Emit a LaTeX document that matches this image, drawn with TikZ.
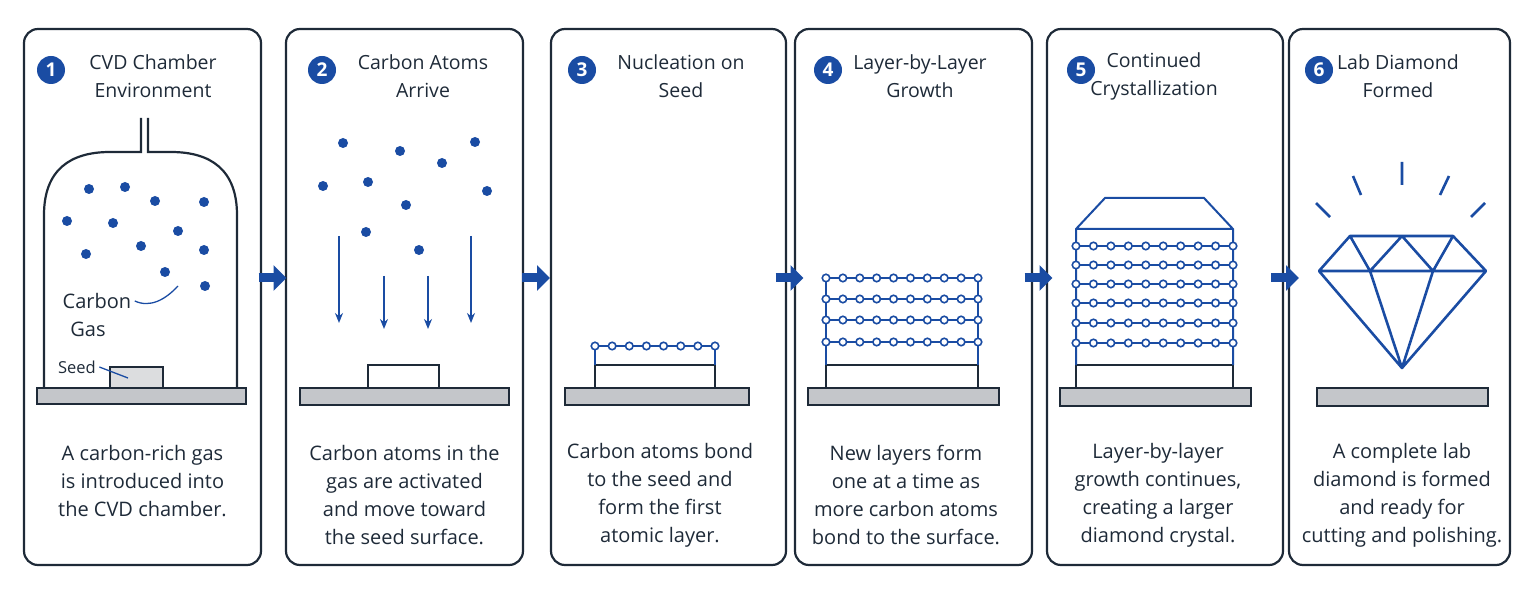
\documentclass[tikz,border=0pt]{standalone}
\usepackage{fontspec}
\setmainfont{Open Sans}
\usetikzlibrary{arrows.meta,positioning,calc}
\definecolor{dblue}{HTML}{1A4CA3}
\definecolor{frame}{HTML}{1E2A38}
\definecolor{plate}{HTML}{C4C6CA}
\tikzset{
  panel/.style={draw=frame,line width=2.2pt,rounded corners=14pt,minimum width=#1,minimum height=536pt,inner sep=0pt},
  badge/.style={circle,fill=dblue,text=white,minimum size=28pt,inner sep=0pt,font=\fontsize{19}{19}\selectfont\bfseries},
  ttl/.style={align=center,font=\fontsize{19.5}{28}\selectfont,text=frame},
  desc/.style={align=center,font=\fontsize{20}{28}\selectfont,text=frame},
  stepto/.style={-{Triangle[length=13pt,width=25pt]},line width=9pt,draw=dblue},
  base/.style={draw=frame,line width=2.2pt,fill=plate},
  seed/.style={draw=frame,line width=2.2pt,fill=white},
  atom/.style={circle,draw=dblue,line width=1.6pt,fill=white,minimum size=7.5pt,inner sep=0pt},
  dot/.style={circle,fill=dblue,minimum size=10pt,inner sep=0pt},
  bond/.style={dblue,line width=2pt},
}
\begin{document}
\begin{tikzpicture}[x=1pt,y=-1pt]
\useasboundingbox (0,0) rectangle (1535,596);
% panels
\node[panel=237pt] (p1) at (142.5,297) {};
\node[panel=237pt] (p2) at (404.5,297) {};
\node[panel=235pt] (p3) at (668.5,297) {};
\node[panel=237pt] (p4) at (913.5,297) {};
\node[panel=236pt] (p5) at (1165,297) {};
\node[panel=221pt] (p6) at (1399.5,297) {};
% headings
\node[badge] (b1) at (51,70) {1};
\node[ttl] (t1) at (153,76) {CVD Chamber\\Environment};
\node[badge] (b2) at (322,70) {2};
\node[ttl] (t2) at (423,76) {Carbon Atoms\\Arrive};
\node[badge] (b3) at (582,70) {3};
\node[ttl] (t3) at (681,76) {Nucleation on\\Seed};
\node[badge] (b4) at (828,70) {4};
\node[ttl] (t4) at (920,76) {Layer-by-Layer\\Growth};
\node[badge] (b5) at (1081,70) {5};
\node[ttl] (t5) at (1154,76) {Continued\\Crystallization};
\node[badge] (b6) at (1319,70) {6};
\node[ttl] (t6) at (1398,76) {Lab Diamond\\Formed};
% captions
\node[desc] (d1) at (142.5,481) {A carbon-rich gas\\is introduced into\\the CVD chamber.};
\node[desc] (d2) at (404.5,495) {Carbon atoms in the\\gas are activated\\and move toward\\the seed surface.};
\node[desc] (d3) at (660,495) {Carbon atoms bond\\to the seed and\\form the first\\atomic layer.};
\node[desc] (d4) at (906,495) {New layers form\\one at a time as\\more carbon atoms\\bond to the surface.};
\node[desc] (d5) at (1158,495) {Layer-by-layer\\growth continues,\\creating a larger\\diamond crystal.};
\node[desc] (d6) at (1402,495) {A complete lab\\diamond is formed\\and ready for\\cutting and polishing.};
% step arrows
\coordinate (lvl) at (0,278);
\foreach \a/\b in {p1/p2,p2/p3,p3/p4,p4/p5,p5/p6}
  \draw[stepto] ($(\a.east|-lvl)!0.5!(\b.west|-lvl)+(-15,0)$) -- ($(\a.east|-lvl)!0.5!(\b.west|-lvl)+(13,0)$);
% 1: chamber
\draw[frame,line width=2.2pt] (44,388) -- (44,215) .. controls (44,170) and (70,152) .. (110,152) -- (141,152) -- (141,118);
\draw[frame,line width=2.2pt] (237,388) -- (237,215) .. controls (237,170) and (211,152) .. (171,152) -- (148,152) -- (148,118);
\draw[base] (37,388) rectangle (246,404);
\draw[seed,fill=plate!60] (110,367) rectangle (163,388);
\foreach \x/\y in {89/189,125/187,155/201,204/202,67/221,113/223,178/231,141/246,86/254,204/250,165/272,205/286}
  \node[dot] at (\x,\y) {};
\node[font=\fontsize{20}{20}\selectfont,text=frame] (cg) at (97,301) {Carbon};
\node[font=\fontsize{20}{20}\selectfont,text=frame] (gs) at (88,329) {Gas};
\draw[bond,line width=1.3pt] (cg.east) .. controls (150,308) and (165,300) .. (178,286);
\node[font=\fontsize{16.5}{16.5}\selectfont,text=frame] (sd) at (77,367) {Seed};
\draw[bond,line width=1.3pt] (sd.east) -- (128,378);
% 2: arriving atoms
\foreach \x/\y in {343/143,400/151,475/142,323/186,368/182,442/163,487/191,406/205,366/232,419/250}
  \node[dot] at (\x,\y) {};
\foreach \x/\ya/\yb in {339/236/323,384/276/329,428/276/329,471/236/323}
  \draw[dblue,line width=1.8pt,-{Stealth[length=10pt,width=8pt]}] (\x,\ya) -- (\x,\yb);
\draw[base] (300,388) rectangle (509,405);
\draw[seed] (368,365) rectangle (439,388);
% 3: first layer
\draw[base] (565,388) rectangle (749,405);
\draw[seed] (595,365) rectangle (715,388);
\draw[bond] (595,365) -- (595,346) -- (715,346) -- (715,365);
\foreach \i in {0,...,7} \node[atom] at (595+120*\i/7,346) {};
% 4: several layers
\draw[base] (808,388) rectangle (999,405);
\draw[seed] (826,365) rectangle (978,388);
\draw[bond] (826,365) -- (826,278) (978,365) -- (978,278);
\foreach \y in {278,299,320,342} {
  \draw[bond] (826,\y) -- (978,\y);
  \foreach \i in {0,...,9} \node[atom] at (826+152*\i/9,\y) {};
}
% 5: crystal
\draw[base] (1060,388) rectangle (1251,406);
\draw[seed] (1076,365) rectangle (1233,388);
\draw[bond] (1076,365) -- (1076,229) -- (1105,198) -- (1204,198) -- (1233,229) -- (1233,365) (1076,229) -- (1233,229);
\foreach \y in {246,265,284,303,323,343} {
  \draw[bond] (1076,\y) -- (1233,\y);
  \foreach \i in {0,...,9} \node[atom] at (1076+157*\i/9,\y) {};
}
% 6: diamond
\draw[base] (1317,388) rectangle (1488,406);
\draw[dblue,line width=2.6pt,line join=round] (1350,236) -- (1453,236) -- (1486,271) -- (1402,368) -- (1319,271) -- cycle
  (1319,271) -- (1486,271)
  (1350,236) -- (1370,271) -- (1402,236) -- (1433,271) -- (1453,236)
  (1370,271) -- (1402,368) -- (1433,271);
\draw[dblue,line width=2.6pt] (1402,162) -- (1402,185) (1353,176) -- (1361,195) (1449,176) -- (1440,195)
  (1316,203) -- (1330,217) (1485,203) -- (1471,217);
\end{tikzpicture}
\end{document}
